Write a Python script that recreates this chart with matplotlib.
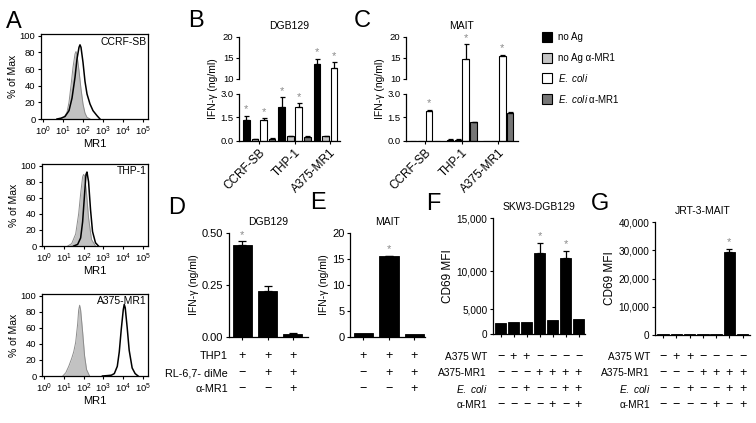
import matplotlib
matplotlib.use('Agg')
import matplotlib.pyplot as plt
import numpy as np
from matplotlib.transforms import blended_transform_factory as btf
from matplotlib.patches import Rectangle

plt.rcParams['font.family'] = ['Liberation Sans', 'DejaVu Sans']
plt.rcParams['mathtext.fontset'] = 'custom'
plt.rcParams['mathtext.rm'] = 'Liberation Sans'
plt.rcParams['mathtext.it'] = 'Liberation Sans:italic'
plt.rcParams['mathtext.bf'] = 'Liberation Sans:bold'
plt.rcParams['axes.linewidth'] = 0.9
plt.rcParams['xtick.major.width'] = 0.8
plt.rcParams['ytick.major.width'] = 0.8

W, H = 756, 423
fig = plt.figure(figsize=(W / 100, H / 100), dpi=100)

def px(l, t, r, b):
    return [l / W, 1 - b / H, (r - l) / W, (b - t) / H]

# ---------------- data ----------------
# Panel A histograms (log10 MR1 intensity, % of max)
hist_names = ['CCRF-SB', 'THP-1', 'A375-MR1']
ccrf_gray_x = [0.9, 1.05, 1.2, 1.3, 1.4, 1.5, 1.6, 1.65, 1.7, 1.8, 1.9, 2.0, 2.1, 2.2, 2.35]
ccrf_gray_y = [0, 2, 8, 20, 40, 62, 78, 81, 77, 58, 36, 18, 7, 2, 0]
ccrf_black_x = [0.7, 0.9, 1.1, 1.3, 1.45, 1.6, 1.7, 1.8, 1.85, 1.9, 2.0, 2.1, 2.2, 2.35, 2.5, 2.7, 2.85]
ccrf_black_y = [0, 1, 3, 10, 25, 50, 72, 86, 89, 86, 68, 45, 30, 18, 10, 4, 0]
thp_gray_x = [1.2, 1.4, 1.6, 1.75, 1.85, 1.95, 2.0, 2.05, 2.15, 2.25, 2.4, 2.6]
thp_gray_y = [0, 3, 15, 40, 65, 86, 89, 87, 65, 35, 8, 0]
thp_black_x = [1.5, 1.7, 1.85, 1.95, 2.05, 2.12, 2.17, 2.25, 2.35, 2.45, 2.6, 2.75]
thp_black_y = [0, 2, 10, 30, 65, 89, 92, 80, 45, 18, 4, 0]
a375_gray_x = [0.95, 1.1, 1.25, 1.4, 1.5, 1.6, 1.7, 1.75, 1.8, 1.85, 1.95, 2.05, 2.15, 2.3]
a375_gray_y = [0, 4, 12, 22, 30, 42, 65, 82, 88, 82, 55, 25, 8, 0]
a375_black_x = [2.95, 3.2, 3.4, 3.55, 3.7, 3.8, 3.9, 4.0, 4.05, 4.1, 4.2, 4.3, 4.45, 4.6, 4.75]
a375_black_y = [0, 0.5, 1, 3, 12, 30, 58, 82, 89, 85, 60, 32, 10, 3, 0]

# Panels B, C
cell_lines = ['CCRF-SB', 'THP-1', 'A375-MR1']
conditions = ['no Ag', 'no Ag α-MR1', '$\\mathit{E.\\ coli}$', '$\\mathit{E.\\ coli}$ α-MR1']
cond_colors = ['#000000', '#c4c4c4', '#ffffff', '#767676']
B_vals = [[1.35, 2.2, 13.5], [0.12, 0.3, 0.3], [1.35, 2.15, 12.5], [0.15, 0.25, 0.0]]
B_errs = [[0.25, 0.6, 1.3], [0.03, 0.05, 0.05], [0.1, 0.25, 1.5], [0.03, 0.04, 0.0]]
B_star = [[1, 1, 1], [0, 0, 0], [1, 1, 1], [0, 0, 0]]
C_vals = [[0.03, 0.08, 0.03], [0.03, 0.08, 0.03], [1.9, 14.8, 15.5], [0.03, 1.2, 1.8]]
C_errs = [[0.0, 0.02, 0.0], [0.0, 0.02, 0.0], [0.1, 3.5, 0.3], [0.0, 0.03, 0.06]]
C_star = [[0, 0, 0], [0, 0, 0], [1, 1, 1], [0, 0, 0]]

# Panel D, E
D_vals = [0.44, 0.22, 0.015]
D_errs = [0.02, 0.025, 0.003]
D_star = [1, 0, 0]
E_vals = [0.8, 15.5, 0.5]
E_errs = [0.0, 0.15, 0.0]
E_star = [0, 1, 0]
DE_row_names = ['THP1', 'RL-6,7- diMe', 'α-MR1']
D_rows = [['+', '+', '+'], ['−', '+', '+'], ['−', '−', '+']]
E_rows = [['+', '+', '+'], ['−', '+', '+'], ['−', '−', '+']]

# Panel F, G
F_vals = [2150, 2350, 2350, 11700, 2850, 11200, 3000]
F_errs = [0, 0, 0, 950, 0, 700, 0]
F_star = [0, 0, 0, 1, 0, 1, 0]
G_vals = [200, 200, 200, 200, 200, 29500, 200]
G_errs = [0, 0, 0, 0, 0, 1100, 0]
G_star = [0, 0, 0, 0, 0, 1, 0]
FG_row_names = ['A375 WT', 'A375-MR1', '$\\mathit{E.\\ coli}$', 'α-MR1']
FG_rows = [['−', '+', '+', '−', '−', '−', '−'],
           ['−', '−', '−', '+', '+', '+', '+'],
           ['−', '−', '+', '−', '−', '+', '+'],
           ['−', '−', '−', '−', '+', '−', '+']]

TICK = 6.8
STAR_C = '#8a8a8a'

# ---------------- Panel A ----------------
hist_boxes = [(41, 34, 148, 119), (42, 164, 148, 246), (42, 294, 148, 376)]
hist_data = [(ccrf_gray_x, ccrf_gray_y, ccrf_black_x, ccrf_black_y),
             (thp_gray_x, thp_gray_y, thp_black_x, thp_black_y),
             (a375_gray_x, a375_gray_y, a375_black_x, a375_black_y)]
for name, box, (gx, gy, bx, by) in zip(hist_names, hist_boxes, hist_data):
    ax = fig.add_axes(px(*box))
    gxv = 10 ** np.array(gx)
    ax.fill_between(gxv, gy, color='#c2c2c2', lw=0)
    ax.plot(gxv, gy, color='#8c8c8c', lw=0.7)
    ax.plot(10 ** np.array(bx), by, color='black', lw=1.1)
    ax.set_xscale('log')
    ax.set_xlim(10 ** -0.1, 10 ** 5.25)
    ax.set_ylim(0, 102)
    ax.set_xticks([10 ** i for i in range(6)])
    ax.set_xticklabels(['$10^{%d}$' % i for i in range(6)], fontsize=6.5)
    ax.set_yticks([0, 20, 40, 60, 80, 100])
    ax.tick_params(axis='both', labelsize=6.8, length=2.5, pad=1.5)
    ax.tick_params(axis='x', which='minor', length=1.5, width=0.6)
    ax.set_ylabel('% of Max', fontsize=7.5, labelpad=1)
    ax.set_xlabel('MR1', fontsize=8, labelpad=0.5)
    ax.text(0.99, 0.97, name, transform=ax.transAxes, ha='right', va='top', fontsize=7.5)

# ---------------- Panels B, C (broken axis) ----------------
bp = [-100, 0, 3, 10, 20, 1000]
bv = [-100 * 47 / 3, 0, 47, 62, 104, 104 + 980 * 4.2]
def fwd(y):
    return np.interp(y, bp, bv)
def inv(v):
    return np.interp(v, bv, bp)

def broken_panel(box, vals, errs, stars, title, xlim, pitch, width):
    ax = fig.add_axes(px(*box))
    ax.set_yscale('function', functions=(fwd, inv))
    ax.set_ylim(0, 20)
    ax.set_xlim(*xlim)
    n = len(vals)
    for k in range(n):
        xs = np.arange(len(cell_lines)) + (k - 1.5) * pitch
        ax.bar(xs, vals[k], width=width, color=cond_colors[k], edgecolor='black', lw=0.8, zorder=2)
        for x, v, e, s in zip(xs, vals[k], errs[k], stars[k]):
            if e > 0:
                ax.errorbar([x], [v], yerr=[[0], [e]], fmt='none', ecolor='black',
                            elinewidth=0.9, capsize=1.8, capthick=0.9, zorder=3)
            if s:
                ax.annotate('*', (x, v + e), xytext=(0, 1), textcoords='offset points',
                            ha='center', va='bottom', color=STAR_C, fontsize=8)
    for s in ['top', 'right', 'left']:
        ax.spines[s].set_visible(False)
    tr = btf(ax.transAxes, ax.transData)
    ax.plot([0, 0], [0, 3], color='black', lw=0.9, transform=tr, clip_on=False)
    ax.plot([0, 0], [10, 20], color='black', lw=0.9, transform=tr, clip_on=False)
    ax.set_yticks([0, 1.5, 3, 10, 15, 20])
    ax.set_yticklabels(['0.0', '1.5', '3.0', '10', '15', '20'])
    ax.set_xticks(range(len(cell_lines)))
    ax.set_xticklabels(cell_lines, rotation=45, ha='right', rotation_mode='anchor', fontsize=8.5)
    ax.tick_params(axis='y', labelsize=TICK, length=2.5, pad=1.5)
    ax.tick_params(axis='x', length=2.5, pad=1.5)
    ax.set_ylabel('IFN-γ (ng/ml)', fontsize=7.5, labelpad=2)
    ax.set_title(title, fontsize=7.5, pad=6)
    return ax

broken_panel((239, 37, 340, 141), B_vals, B_errs, B_star, 'DGB129', (-0.574, 2.29), 0.242, 0.19)
broken_panel((406, 37, 518, 141), C_vals, C_errs, C_star, 'MAIT', (-0.51, 2.53), 0.215, 0.17)

# legend
for i, (lab, col) in enumerate(zip(conditions, cond_colors)):
    yc = 37 + i * 20.7
    fig.add_artist(Rectangle((542 / W, 1 - (yc + 5) / H), 10 / W, 10 / H,
                             transform=fig.transFigure, fc=col, ec='black', lw=0.8))
    fig.text(558 / W, 1 - yc / H, lab, va='center', ha='left', fontsize=7)

# ---------------- simple bar panels ----------------
def simple_panel(box, vals, errs, stars, title, xlim, ylim, yticks, yticklabels,
                 ylabel, width, ylabel_fs, tick_fs, scale=None):
    ax = fig.add_axes(px(*box))
    if scale is not None:
        ax.set_yscale('function', functions=scale)
    xs = np.arange(len(vals))
    ax.bar(xs, vals, width=width, color='black', edgecolor='black', lw=0.6, zorder=2)
    for x, v, e, s in zip(xs, vals, errs, stars):
        if e > 0:
            ax.errorbar([x], [v], yerr=[[0], [e]], fmt='none', ecolor='black',
                        elinewidth=0.9, capsize=2.2 if width > 0.8 else 3, capthick=0.9, zorder=3)
        if s:
            ax.annotate('*', (x, v + e), xytext=(0, 1), textcoords='offset points',
                        ha='center', va='bottom', color=STAR_C, fontsize=8)
    ax.set_xlim(*xlim)
    ax.set_ylim(*ylim)
    ax.set_yticks(yticks)
    ax.set_yticklabels(yticklabels)
    ax.set_xticks(xs)
    ax.set_xticklabels([])
    for s in ['top', 'right']:
        ax.spines[s].set_visible(False)
    ax.tick_params(axis='y', labelsize=tick_fs, length=2.5, pad=1.5)
    ax.tick_params(axis='x', length=2.5)
    ax.set_ylabel(ylabel, fontsize=ylabel_fs, labelpad=2)
    ax.set_title(title, fontsize=7.5, pad=6)
    return ax

# F axis in the reference is non-uniform between its tick marks
fp = [-1e6, 0, 5000, 10000, 15000, 1e6]
fv = [-1e6 * 25 / 5000, 0, 25, 63, 116, 116 + (1e6 - 15000) * 53 / 5000]
def f_fwd(y):
    return np.interp(y, fp, fv)
def f_inv(v):
    return np.interp(v, fv, fp)

axD = simple_panel((229, 233, 308, 337), D_vals, D_errs, D_star, 'DGB129', (-0.53, 2.6),
                   (0, 0.5), [0, 0.25, 0.5], ['0.00', '0.25', '0.50'], 'IFN-γ (ng/ml)', 0.76, 7.5, 8)
axE = simple_panel((350, 233, 425, 337), E_vals, E_errs, E_star, 'MAIT', (-0.53, 2.42),
                   (0, 20), [0, 5, 10, 15, 20], ['0', '5', '10', '15', '20'], 'IFN-γ (ng/ml)', 0.76, 7.5, 8)
axF = simple_panel((493, 218, 585, 334), F_vals, F_errs, F_star, 'SKW3-DGB129', (-0.58, 6.5),
                   (0, 15000), [0, 5000, 10000, 15000], ['0', '5,000', '10,000', '15,000'],
                   'CD69 MFI', 0.86, 8.5, 7.2, scale=(f_fwd, f_inv))
axG = simple_panel((655, 222, 750, 335), G_vals, G_errs, G_star, 'JRT-3-MAIT', (-0.6, 6.55),
                   (0, 40000), [0, 10000, 20000, 30000, 40000],
                   ['0', '10,000', '20,000', '30,000', '40,000'], 'CD69 MFI', 0.86, 8.5, 7.2)

def row_table(ax, names, rows, ys, name_x, fs_name, fs_sign):
    tr = btf(ax.transData, fig.transFigure)
    for r, y in zip(rows, ys):
        for i, s in enumerate(r):
            ax.text(i, 1 - y / H, s, transform=tr, ha='center', va='center', fontsize=fs_sign)
    if names is not None:
        for nm, y in zip(names, ys):
            fig.text(name_x / W, 1 - y / H, nm, ha='right', va='center', fontsize=fs_name)

row_table(axD, DE_row_names, D_rows, [356, 373, 389], 228, 7.8, 9)
row_table(axE, None, E_rows, [356, 373, 389], 0, 7.8, 9)
row_table(axF, FG_row_names, FG_rows, [357, 373, 389, 405], 487, 7.3, 9)
row_table(axG, FG_row_names, FG_rows, [357, 373, 389, 405], 650, 7.3, 9)

# panel letters
for L, (x, y) in zip('ABCDEFG', [(14, 22), (196, 21), (362, 21), (177, 208), (318, 203), (433, 204), (600, 204)]):
    fig.text(x / W, 1 - y / H, L, ha='center', va='center', fontsize=17)

fig.savefig('out.png', dpi=100)
